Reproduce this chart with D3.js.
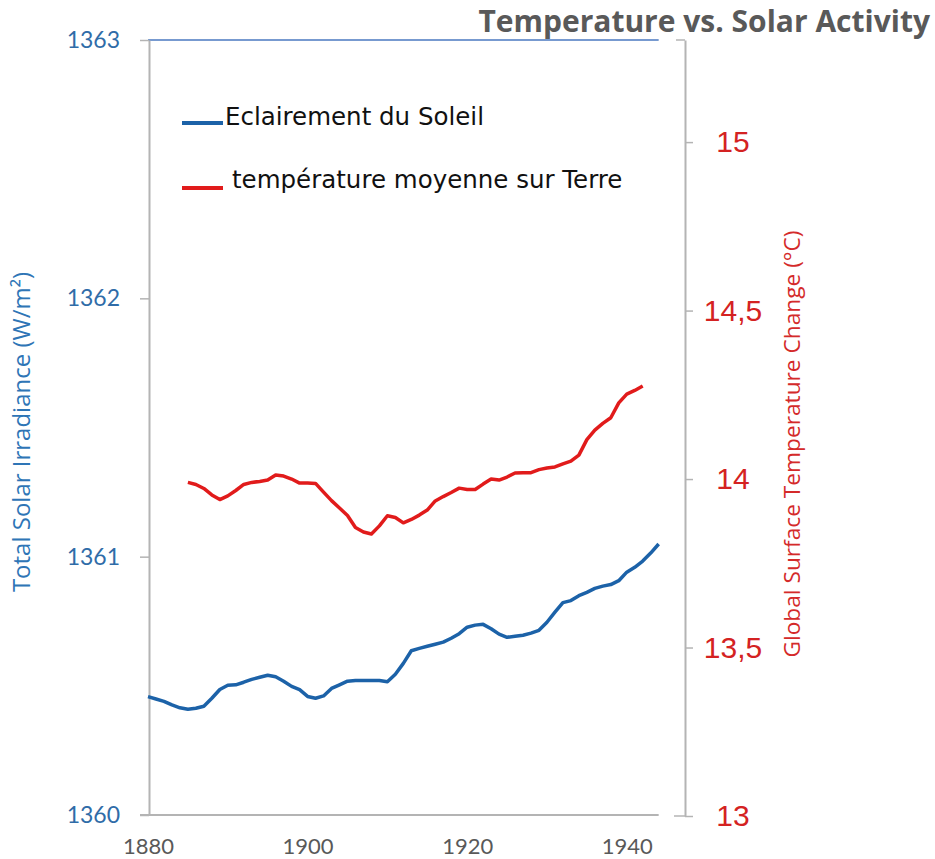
<!DOCTYPE html>
<html>
<head>
<meta charset="utf-8">
<script src="https://cdn.jsdelivr.net/npm/d3@7"></script>
<style>
  body { margin: 0; background: #fff; }
  svg { display: block; }
</style>
</head>
<body>
<div id="chart"></div>
<script>
// years for the two series
const years = d3.range(1880, 1945);           // 1880 .. 1944
const tempYears = d3.range(1885, 1943);       // 1885 .. 1942

// Total solar irradiance (W/m2)
const tsiValues = [
  1360.458, 1360.449, 1360.440, 1360.426, 1360.415, 1360.409, 1360.413, 1360.421, 1360.452, 1360.486,
  1360.502, 1360.504, 1360.514, 1360.525, 1360.533, 1360.541, 1360.535, 1360.518, 1360.498, 1360.485,
  1360.459, 1360.452, 1360.461, 1360.490, 1360.504, 1360.518, 1360.521, 1360.521, 1360.521, 1360.521,
  1360.516, 1360.545, 1360.587, 1360.636, 1360.645, 1360.653, 1360.661, 1360.669, 1360.684, 1360.702,
  1360.727, 1360.735, 1360.738, 1360.721, 1360.700, 1360.688, 1360.692, 1360.696, 1360.704, 1360.715,
  1360.746, 1360.785, 1360.822, 1360.830, 1360.849, 1360.862, 1360.877, 1360.886, 1360.892, 1360.907,
  1360.940, 1360.959, 1360.983, 1361.014, 1361.049
];

// mean global surface temperature (°C)
const tempValues = [
  13.990, 13.984, 13.972, 13.953, 13.939, 13.950, 13.966, 13.984, 13.990, 13.993,
  13.997, 14.012, 14.009, 14.000, 13.988, 13.988, 13.987, 13.961, 13.936, 13.914,
  13.892, 13.856, 13.843, 13.837, 13.861, 13.891, 13.886, 13.870, 13.880, 13.893,
  13.908, 13.935, 13.948, 13.960, 13.973, 13.969, 13.969, 13.985, 14.000, 13.997,
  14.006, 14.018, 14.019, 14.019, 14.028, 14.033, 14.036, 14.045, 14.053, 14.071,
  14.117, 14.145, 14.165, 14.182, 14.226, 14.252, 14.263, 14.276
];

const xTicks = [1880, 1900, 1920, 1940];
const leftTicks = [1360, 1361, 1362, 1363];
const rightTicks = [13, 13.5, 14, 14.5, 15];
const legendLabels = ["Eclairement du Soleil", "température moyenne sur Terre"];

const width = 935, height = 859;
const margin = {top: 40, right: 250, bottom: 44, left: 148};
const plotRight = width - margin.right;   // 685
const plotBottom = height - margin.bottom; // 815

const blue = "#1c62a8", red = "#e11b1b", axisGray = "#b4b4b4";

const svg = d3.select("#chart").append("svg")
  .attr("width", width)
  .attr("height", height);

// scales
const x = d3.scaleLinear().domain([1880, 1947.3]).range([margin.left, plotRight]);
const yL = d3.scaleLinear().domain([1360, 1363]).range([plotBottom, margin.top]);
const yR = d3.scaleLinear().domain([13, 15.303]).range([plotBottom + 1, margin.top]);

// top border (blue, stops before the right axis)
svg.append("line")
  .attr("x1", x(1880)).attr("x2", x(1944))
  .attr("y1", yL(1363)).attr("y2", yL(1363))
  .attr("stroke", "#4a78c0").attr("stroke-width", 1.5);

// x axis
const gx = svg.append("g")
  .attr("transform", "translate(0," + plotBottom + ")")
  .call(d3.axisBottom(x).tickValues(xTicks).tickFormat(d3.format("d")).tickSize(0).tickPadding(23));
gx.select(".domain").remove();
gx.append("line")
  .attr("x1", x(1880) - 8).attr("x2", x(1944))
  .attr("stroke", axisGray).attr("stroke-width", 2);
gx.selectAll("text")
  .style("font-family", "Lato, sans-serif")
  .style("font-size", "22px")
  .attr("fill", "#595959");

// left axis
const gl = svg.append("g")
  .attr("transform", "translate(" + (margin.left + 1) + ",0)")
  .call(d3.axisLeft(yL).tickValues(leftTicks).tickFormat(d3.format("d")).tickSize(9).tickSizeOuter(0).tickPadding(20));
gl.select(".domain").attr("stroke", axisGray).attr("stroke-width", 2);
gl.selectAll(".tick line").attr("stroke", axisGray).attr("stroke-width", 1.5);
gl.selectAll("text")
  .style("font-family", "Lato, sans-serif")
  .style("font-size", "23px")
  .attr("fill", "#2f6ca8");

// right axis
const gr = svg.append("g")
  .attr("transform", "translate(" + plotRight + ",0)")
  .call(d3.axisRight(yR).tickValues(rightTicks)
    .tickFormat(d => String(d).replace(".", ","))
    .tickSize(8).tickSizeOuter(0).tickPadding(0));
gr.select(".domain").attr("stroke", axisGray).attr("stroke-width", 2);
gr.selectAll(".tick line").attr("stroke", axisGray).attr("stroke-width", 1.5);
gr.selectAll("text")
  .attr("x", 48)
  .attr("text-anchor", "middle")
  .style("font-family", "'Liberation Sans', Arial, sans-serif")
  .style("font-size", "30px")
  .attr("fill", "#d42222");
// little end caps on the right axis
gr.append("line").attr("x1", -9).attr("x2", 0).attr("y1", yR.range()[1]).attr("y2", yR.range()[1])
  .attr("stroke", axisGray).attr("stroke-width", 1.5);
gr.append("line").attr("x1", -11).attr("x2", 0).attr("y1", yR(13)).attr("y2", yR(13))
  .attr("stroke", axisGray).attr("stroke-width", 1.5);

// axis titles
svg.append("text")
  .attr("transform", "translate(22," + 432 + ") rotate(-90)")
  .attr("text-anchor", "middle")
  .attr("dy", "0.35em")
  .style("font-family", "'Open Sans', sans-serif")
  .style("font-size", "24px")
  .attr("fill", "#2e75b6")
  .text("Total Solar Irradiance (W/m²)");

svg.append("text")
  .attr("transform", "translate(792," + 444 + ") rotate(-90)")
  .attr("text-anchor", "middle")
  .attr("dy", "0.35em")
  .style("font-family", "'Open Sans', sans-serif")
  .style("font-size", "22.7px")
  .attr("fill", "#d42a2a")
  .text("Global Surface Temperature Change (°C)");

// title
svg.append("text")
  .attr("x", 930).attr("y", 32)
  .attr("text-anchor", "end")
  .style("font-family", "'Open Sans', sans-serif")
  .style("font-size", "30px")
  .style("font-weight", "bold")
  .attr("fill", "#595959")
  .text("Temperature vs. Solar Activity");

// lines
const tsiLine = d3.line()
  .x((d, i) => x(years[i]))
  .y(d => yL(d));
const tempLine = d3.line()
  .x((d, i) => x(tempYears[i]))
  .y(d => yR(d));

svg.append("path")
  .datum(tsiValues)
  .attr("d", tsiLine)
  .attr("fill", "none")
  .attr("stroke", blue)
  .attr("stroke-width", 3.5)
  .attr("stroke-linejoin", "round");

svg.append("path")
  .datum(tempValues)
  .attr("d", tempLine)
  .attr("fill", "none")
  .attr("stroke", red)
  .attr("stroke-width", 3.5)
  .attr("stroke-linejoin", "round");

// legend
const legend = svg.append("g");
const legendRows = [
  {label: legendLabels[0], color: blue, y: 123, tx: 225, ty: 125},
  {label: legendLabels[1], color: red, y: 188, tx: 232, ty: 188}
];
legendRows.forEach(r => {
  legend.append("line")
    .attr("x1", 182).attr("x2", 223)
    .attr("y1", r.y).attr("y2", r.y)
    .attr("stroke", r.color).attr("stroke-width", 4);
  legend.append("text")
    .attr("x", r.tx).attr("y", r.ty)
    .style("font-family", "'DejaVu Sans', sans-serif")
    .style("font-size", "24.5px")
    .attr("fill", "#111")
    .text(r.label);
});
</script>
</body>
</html>
